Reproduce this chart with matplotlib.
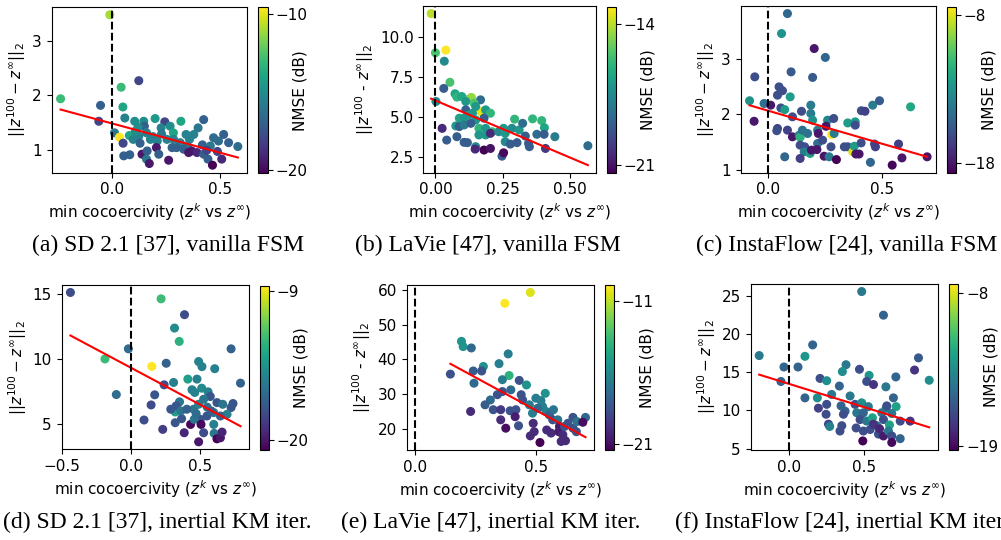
import numpy as np
import matplotlib
matplotlib.use("Agg")
import matplotlib.pyplot as plt

# ============================================================
# DATA
# ============================================================

# (a) SD 2.1, vanilla FSM
xa = [-0.011, -0.24, -0.054, -0.062, 0.124, 0.042, 0.05, 0.059, 0.011, 0.034,
      0.051, 0.054, 0.082, 0.105, 0.147, 0.15, 0.20, 0.245, 0.228, 0.27,
      0.32, 0.426, 0.40, 0.38, 0.344, 0.285, 0.08, 0.098, 0.124, 0.13,
      0.108, 0.16, 0.178, 0.21, 0.255, 0.286, 0.317, 0.35, 0.37, 0.395,
      0.42, 0.457, 0.472, 0.495, 0.519, 0.542, 0.585, 0.446, 0.467, 0.51,
      0.139, 0.163, 0.16, 0.173, 0.206, 0.217, 0.263, 0.279, 0.30, 0.333,
      0.356, 0.426, 0.19, 0.23, 0.36, 0.44, 0.12, 0.49]
ya = [3.47, 1.94, 1.82, 1.53, 2.27, 2.15, 1.79, 1.59, 1.32, 1.24,
      1.13, 0.90, 0.92, 1.53, 1.53, 1.44, 1.58, 1.52, 1.41, 1.44,
      1.53, 1.56, 1.41, 1.29, 1.29, 1.32, 1.27, 1.20, 1.26, 1.13,
      1.35, 1.32, 1.20, 1.17, 1.20, 1.20, 1.14, 1.08, 0.99, 0.96,
      1.10, 1.08, 1.23, 1.17, 1.29, 1.14, 1.07, 0.84, 0.73, 0.84,
      0.93, 0.99, 0.84, 0.76, 1.05, 0.93, 0.82, 1.05, 1.05, 1.02,
      0.96, 0.93, 1.25, 1.30, 1.20, 1.00, 1.42, 0.98]
ca = [-11, -13, -17, -18, -18, -13, -14, -15.5, -16, -9.6,
      -18, -17, -17, -15, -15, -17, -14.5, -18, -15.5, -15,
      -14, -17, -16, -15.5, -15.5, -14, -14, -15.5, -15.5, -17,
      -15, -15.5, -15.5, -15.5, -15.5, -15.5, -15.5, -15.5, -19.5, -19,
      -17, -16, -16.5, -16.5, -17, -17, -16.5, -17, -20.2, -19,
      -19.5, -17, -16, -19.5, -19.5, -17, -19.5, -17, -17, -17,
      -19.5, -17, -15.5, -16, -15.5, -18, -15, -18]

# (b) LaVie, vanilla FSM
xb = [-0.016, 0.0, 0.039, 0.033, 0.054, 0.031, 0.002, 0.073, 0.08, 0.098,
      0.125, 0.134, 0.113, 0.168, 0.144, 0.168, 0.15, 0.113, 0.138, 0.187,
      0.205, 0.089, 0.107, 0.125, 0.15, 0.181, 0.076, 0.089, 0.107, 0.132,
      0.162, 0.187, 0.211, 0.162, 0.187, 0.205, 0.025, 0.08, 0.042, 0.107,
      0.119, 0.15, 0.148, 0.181, 0.205, 0.248, 0.254, 0.236, 0.254, 0.26,
      0.26, 0.279, 0.285, 0.295, 0.312, 0.325, 0.304, 0.335, 0.347, 0.35,
      0.362, 0.378, 0.396, 0.406, 0.405, 0.41, 0.445, 0.568]
yb = [11.44, 9.0, 9.17, 8.48, 7.17, 6.79, 5.98, 6.46, 6.25, 6.29,
      6.12, 6.23, 5.98, 6.08, 5.87, 5.35, 5.67, 5.46, 5.25, 5.46,
      5.25, 4.94, 4.94, 5.15, 4.83, 4.94, 4.46, 4.42, 4.52, 4.62,
      4.31, 4.31, 4.10, 3.90, 3.90, 4.0, 4.31, 3.79, 3.58, 3.44,
      3.42, 3.17, 3.02, 2.96, 3.06, 2.58, 2.79, 4.10, 4.31, 4.0,
      3.48, 3.33, 4.31, 4.88, 4.21, 4.62, 3.42, 3.83, 3.37, 3.17,
      4.9, 3.94, 4.79, 4.35, 3.94, 3.06, 3.79, 3.23]
cb = [-14, -15.5, -13.14, -17.5, -15.5, -19, -17.5, -16.5, -16, -16.5,
      -15.5, -14.5, -17, -18.5, -15.5, -13.5, -17, -19, -17, -17,
      -16, -16.5, -17, -17, -17, -19, -17, -19, -18, -19,
      -16, -17, -16, -17, -17, -20.5, -20.5, -19, -19, -19,
      -19, -17.5, -20.5, -21.41, -21, -19, -21.2, -17.5, -17, -17,
      -17.5, -19, -17.5, -16, -17, -18.5, -19, -19, -19, -19,
      -16, -18.5, -16, -16.5, -19, -20, -18, -18.5]

# (c) InstaFlow, vanilla FSM
xc = [0.084, 0.058, 0.202, 0.251, -0.06, 0.10, 0.195, 0.047, 0.062, 0.04,
      0.096, -0.083, -0.019, 0.01, 0.055, 0.072, -0.063, 0.106, 0.146, 0.187,
      0.187, 0.195, 0.217, 0.261, 0.288, 0.35, 0.383, 0.383, 0.41, 0.426,
      0.46, 0.49, 0.627, 0.04, 0.084, 0.037, 0.106, 0.136, 0.14, 0.15,
      0.173, 0.22, 0.254, 0.279, 0.29, 0.14, 0.16, 0.217, 0.239, 0.276,
      0.158, 0.184, 0.19, 0.214, 0.072, 0.14, 0.246, 0.268, 0.30, 0.335,
      0.35, 0.372, 0.379, 0.386, 0.40, 0.409, 0.45, 0.468, 0.472, 0.546,
      0.574, 0.589, 0.70]
yc = [3.81, 3.45, 3.18, 3.02, 2.67, 2.76, 2.66, 2.49, 2.42, 2.34,
      2.31, 2.24, 2.19, 2.16, 2.11, 2.08, 1.87, 1.95, 2.05, 2.16,
      2.01, 1.89, 1.71, 1.89, 1.92, 1.84, 1.86, 1.80, 2.06, 2.05,
      2.16, 2.24, 2.13, 1.74, 1.71, 1.70, 1.59, 1.62, 1.58, 1.71,
      1.65, 1.65, 1.78, 1.63, 1.65, 1.44, 1.41, 1.47, 1.53, 1.41,
      1.32, 1.29, 1.35, 1.36, 1.23, 1.20, 1.24, 1.23, 1.18, 1.41,
      1.41, 1.32, 1.42, 1.28, 1.28, 1.48, 1.13, 1.46, 1.41, 1.08,
      1.46, 1.21, 1.23]
cc = [-15, -13, -18, -15, -16, -15.5, -15.5, -16, -16, -16,
      -12.5, -13, -14.5, -18, -16, -12.5, -18, -16, -16, -14,
      -14, -13, -14, -13.5, -16, -12.5, -12.5, -16, -16, -16.5,
      -14, -15.5, -12, -16.5, -16.5, -16, -18, -14, -11.5, -14.5,
      -14.5, -18, -18, -7.44, -14, -16, -16, -14.5, -16, -16,
      -14, -12.5, -18, -18, -15, -16.5, -18, -14, -18.67, -16,
      -16, -8, -12.5, -18, -18, -16, -15, -16, -16.5, -18.5,
      -16.5, -18, -18]

# (d) SD 2.1, inertial KM iter.
xd = [-0.437, -0.188, -0.106, -0.019, 0.217, 0.386, 0.314, 0.348, 0.15, 0.254,
      0.488, 0.512, 0.604, 0.722, 0.79, 0.41, 0.476, 0.307, 0.239, 0.171,
      0.145, 0.094, 0.229, 0.319, 0.287, 0.35, 0.326, 0.365, 0.43, 0.44,
      0.46, 0.51, 0.556, 0.572, 0.452, 0.488, 0.524, 0.62, 0.662, 0.722,
      0.736, 0.693, 0.645, 0.597, 0.548, 0.50, 0.456, 0.505, 0.597, 0.524,
      0.60, 0.488, 0.62, 0.645, 0.657, 0.384, 0.319, 0.36, 0.403, 0.55,
      0.58, 0.47]
yd = [15.13, 10.01, 7.27, 10.79, 14.64, 13.42, 12.39, 11.36, 9.44, 9.68,
      9.81, 9.42, 9.26, 10.79, 8.15, 8.46, 8.46, 8.20, 8.02, 7.25,
      6.47, 5.31, 4.59, 5.93, 6.14, 6.71, 6.40, 5.41, 4.97, 7.64,
      7.43, 7.76, 7.48, 7.12, 6.14, 6.52, 6.91, 6.65, 6.52, 6.27,
      6.58, 5.75, 5.62, 5.88, 5.62, 5.36, 5.36, 4.97, 4.97, 4.33,
      4.28, 3.63, 3.86, 3.94, 4.38, 4.33, 5.10, 6.01, 6.14, 6.3,
      6.0, 5.8]
cd = [-18, -12.5, -16.5, -16.5, -12.5, -18, -15, -13, -8.65, -17,
      -15.5, -15.5, -15.5, -17, -17, -14, -15.5, -15.5, -18, -17.5,
      -18, -18, -18.5, -14, -17.5, -16, -17.5, -17.5, -20.5, -15.5,
      -15.5, -15, -15.5, -17.5, -16, -15.5, -16, -17.5, -16, -17.5,
      -17.5, -15.5, -17, -16, -17.5, -17.5, -16, -20.5, -15.5, -18,
      -16, -20, -20.74, -20, -19.5, -19.5, -17.5, -16, -17, -16.5,
      -17, -16.5]

# (e) LaVie, inertial KM iter.
xe = [0.372, 0.478, 0.192, 0.199, 0.233, 0.386, 0.348, 0.283, 0.39, 0.362,
      0.241, 0.276, 0.146, 0.244, 0.432, 0.462, 0.54, 0.397, 0.44, 0.362,
      0.341, 0.312, 0.29, 0.324, 0.355, 0.394, 0.418, 0.23, 0.355, 0.376,
      0.415, 0.429, 0.446, 0.474, 0.487, 0.49, 0.478, 0.494, 0.518, 0.522,
      0.529, 0.543, 0.557, 0.574, 0.571, 0.592, 0.599, 0.546, 0.564, 0.596,
      0.613, 0.606, 0.624, 0.62, 0.634, 0.655, 0.669, 0.655, 0.672, 0.707,
      0.696, 0.501, 0.508]
ye = [56.1, 59.2, 45.2, 43.7, 43.3, 41.6, 38.8, 38.0, 35.4, 34.2,
      36.7, 36.7, 35.8, 33.2, 34.0, 32.7, 30.3, 31.3, 29.9, 30.8,
      29.9, 28.4, 27.0, 25.6, 25.6, 25.3, 25.6, 25.1, 22.7, 20.3,
      23.6, 21.0, 28.4, 27.0, 24.6, 21.7, 18.1, 19.3, 16.2, 28.2,
      26.5, 25.1, 24.1, 25.6, 22.7, 22.7, 20.8, 19.8, 18.9, 19.3,
      18.4, 16.5, 16.7, 20.8, 21.7, 20.3, 19.3, 23.4, 22.2, 23.4,
      22.0, 28.9, 26.0]
ce = [-9.88, -10.5, -15.5, -15.5, -17.5, -16.5, -16.5, -15.5, -14, -16.5,
      -18, -18.5, -18.5, -17.5, -18.5, -15.5, -15.5, -17.5, -18.5, -18.5,
      -18.5, -17.5, -18, -18.5, -19.5, -18.5, -18.5, -20, -20, -21,
      -20.5, -18.5, -18.5, -16.5, -16.5, -20, -20, -20, -21.4, -16.5,
      -16.5, -16.5, -18, -17, -18.5, -17, -20.5, -20, -20, -20.5,
      -20, -20, -20, -18.5, -18.5, -18.5, -18.5, -18.5, -17, -17.5,
      -21, -16.5, -17.5]

# (f) InstaFlow, inertial KM iter.
xf = [0.655, 0.482, 0.626, -0.197, 0.157, 0.106, -0.033, 0.06, -0.053, 0.858,
      0.832, 0.929, 0.378, 0.354, 0.467, 0.531, 0.708, 0.206, 0.25, 0.334,
      0.515, 0.56, 0.642, 0.106, 0.188, 0.283, 0.25, 0.195, 0.246, 0.262,
      0.27, 0.345, 0.405, 0.372, 0.361, 0.35, 0.338, 0.438, 0.482, 0.526,
      0.449, 0.493, 0.471, 0.515, 0.553, 0.615, 0.644, 0.648, 0.692, 0.71,
      0.681, 0.626, 0.666, 0.737, 0.803, 0.445, 0.493, 0.538, 0.582, 0.593,
      0.626, 0.659, 0.681, 0.737, 0.489, 0.681, 0.56, 0.6]
yf = [6.9, 25.6, 22.5, 17.2, 18.6, 17.1, 15.7, 15.7, 13.8, 16.9,
      15.3, 13.96, 16.0, 15.1, 15.4, 14.6, 14.4, 14.2, 13.9, 13.2,
      13.8, 13.4, 13.1, 11.65, 11.65, 12.1, 10.8, 10.3, 9.5, 8.2,
      7.9, 10.6, 11.9, 9.9, 9.5, 8.0, 7.3, 10.8, 11.0, 10.5,
      9.7, 9.7, 8.8, 8.6, 9.04, 9.7, 10.3, 10.6, 11.65, 10.5,
      9.6, 8.8, 8.1, 8.6, 8.6, 7.7, 7.3, 7.5, 8.0, 6.9,
      6.65, 7.3, 6.65, 6.3, 6.0, 5.8, 8.2, 7.6]
cf = [-7.33, -14.5, -15.5, -14.5, -15.5, -13, -15.5, -15.5, -15.5, -16,
      -17.5, -13.5, -14.5, -13.5, -16.5, -13, -15.5, -16.5, -13.5, -15.5,
      -16.5, -17.5, -14.5, -15.5, -13.5, -14.5, -16.5, -17, -16.5, -17,
      -14, -15.5, -14.5, -15.5, -16.5, -16.5, -16.5, -16.5, -13.5, -14.5,
      -14.5, -15.5, -16.5, -14.5, -12.5, -14.5, -14.5, -16.5, -15.5, -12.5,
      -14.5, -16.5, -12.5, -16.5, -17.5, -16.5, -16.5, -16.5, -14.5, -16.5,
      -18.5, -14.5, -16.5, -15.5, -19.31, -19, -17.5, -18]

# least-squares fit lines as they appear in the reference (slope, intercept)
fit_slope = [-1.06, -7.07, -1.184, -5.69, -37.5, -6.14]
fit_icpt = [1.49, 6.04, 2.059, 9.33, 44.24, 13.49]

# ============================================================
# FIGURE
# ============================================================

W, H = 1001, 540
fig = plt.figure(figsize=(W / 100, H / 100), dpi=100)

FS = 11


def box(l, t, r, b):
    return [l / W, 1 - b / H, (r - l) / W, (b - t) / H]


ylab = r"$||z^{100} - z^{\infty}||_2$"
ylab_h = r"$||z^{100}$ - $z^{\infty}||_2$"
xlab = r"min cocoercivity ($z^k$ vs $z^{\infty}$)"


def panel(i, x, y, c, ax_box, cb_box, yticks, xticks, cticks, ylabel, caption, cap_xy):
    ax = fig.add_axes(box(*ax_box))
    sc = ax.scatter(x, y, c=c, cmap="viridis", s=30, zorder=2)
    xx = np.array([min(x), max(x)])
    ax.plot(xx, fit_slope[i] * xx + fit_icpt[i], color="red", lw=1.5, zorder=3)
    ax.axvline(0, color="black", ls="--", lw=1.5, zorder=4)
    ax.set_yticks(yticks)
    ax.set_xticks(xticks)
    ax.tick_params(labelsize=FS)
    ax.set_xlabel(xlab, fontsize=FS, labelpad=3)
    ax.set_ylabel(ylabel, fontsize=FS, labelpad=3)
    cax = fig.add_axes(box(*cb_box))
    cbar = fig.colorbar(sc, cax=cax, ticks=cticks)
    cbar.ax.tick_params(labelsize=FS, pad=2)
    cbar.set_label("NMSE (dB)", fontsize=FS)
    cbw = cb_box[2] - cb_box[0]
    cbar.ax.yaxis.set_label_coords(1 + 25 / cbw, 0.5)
    # sub-figure caption (serif, as in the paper)
    fig.text(cap_xy[0] / W, 1 - cap_xy[1] / H, caption, family="Liberation Serif",
             fontsize=17, ha="center", va="center")


panel(0, xa, ya, ca, (51.7, 7.3, 246.7, 172.7), (258.3, 7.3, 267.7, 173.3),
      [1, 2, 3], [0.0, 0.5], [-10, -20], ylab,
      "(a) SD 2.1 [37], vanilla FSM", (168, 245))
panel(1, xb, yb, cb, (423.3, 6, 595.7, 172.7), (607.3, 6.7, 615.7, 173.3),
      [2.5, 5.0, 7.5, 10.0], [0.0, 0.25, 0.5], [-14, -21], ylab_h,
      "(b) LaVie [47], vanilla FSM", (488, 245))
panel(2, xc, yc, cc, (740.7, 6, 936, 172.7), (947.3, 6.7, 956, 173.3),
      [1, 2, 3], [0.0, 0.5], [-8, -18], ylab,
      "(c) InstaFlow [24], vanilla FSM", (847, 245))
panel(3, xd, yd, cd, (61.7, 285, 249, 449.3), (260, 286, 269, 450),
      [5, 10, 15], [-0.5, 0.0, 0.5], [-9, -20], ylab,
      "(d) SD 2.1 [37], inertial KM iter.", (157, 522))
panel(4, xe, ye, ce, (406.7, 285, 594, 450), (605, 285, 614, 450),
      [20, 30, 40, 50, 60], [0.0, 0.5], [-11, -21], ylab_h,
      "(e) LaVie [47], inertial KM iter.", (491, 522))
panel(5, xf, yf, cf, (750.7, 284, 937.7, 450), (949.3, 284, 958.3, 450),
      [5, 10, 15, 20, 25], [0.0, 0.5], [-8, -19], ylab,
      "(f) InstaFlow [24], inertial KM iter.", (842, 522))

fig.savefig("out.png", dpi=100)
